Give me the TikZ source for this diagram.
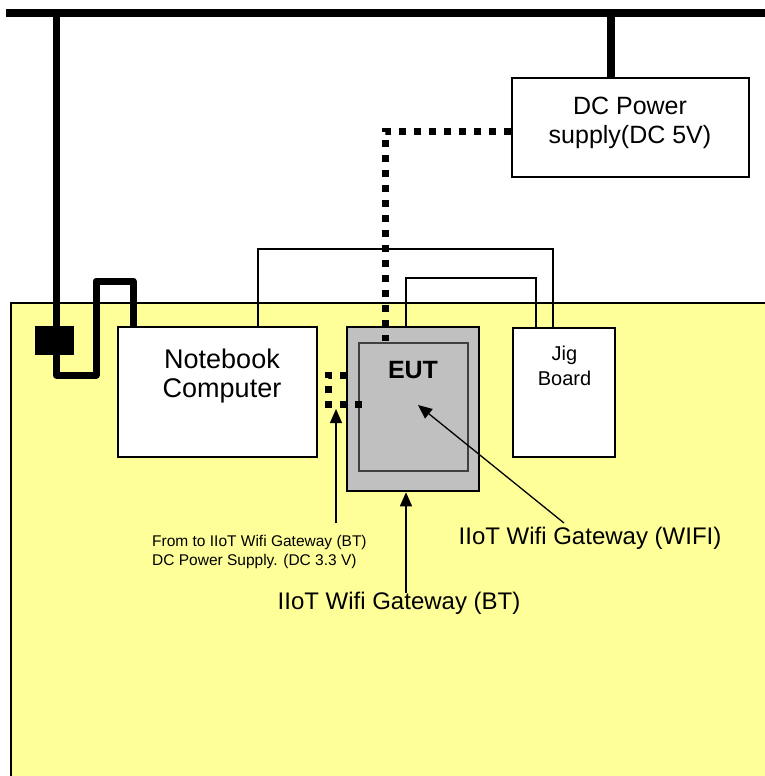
\documentclass[tikz,border=0pt]{standalone}
\usepackage{fontspec}
\setmainfont{Liberation Sans}
\usetikzlibrary{arrows.meta}
\definecolor{bgyellow}{RGB}{255,255,153}
\definecolor{eutgray}{RGB}{192,192,192}
\definecolor{innergray}{RGB}{64,64,64}
\tikzset{
  box/.style={draw=black, line width=1.5pt, fill=white, inner sep=0pt},
  thickwire/.style={line width=7pt, line join=round},
  dotwire/.style={line width=7pt, dash pattern=on 7pt off 8pt},
  thinwire/.style={line width=1.3pt},
  arr/.style={line width=1.3pt, -{Triangle[length=14pt,width=12pt]}},
  bigtxt/.style={font=\fontsize{25}{29}\selectfont, align=center, inner sep=0pt},
  labtxt/.style={font=\fontsize{24}{28}\selectfont, inner sep=0pt},
  jigtxt/.style={font=\fontsize{20}{25}\selectfont, align=center, inner sep=0pt},
  smalltxt/.style={font=\fontsize{15.5}{19.3}\selectfont, align=left, inner sep=0pt},
}
\begin{document}
\begin{tikzpicture}[x=1pt,y=-1pt]
\useasboundingbox (0,0) rectangle (765,776);
\clip (0,0) rectangle (765,776);
% yellow table area
\filldraw[fill=bgyellow, draw=black, line width=1.2pt] (11,303) rectangle (790,800);
% top mains bus
\draw[line width=8pt] (6,13) -- (775,13);
% coordinates for wires
\coordinate (busL) at (56.5,13);
\coordinate (busR) at (611,13);
% boxes
\node[box, minimum width=237pt, minimum height=99pt] (dc) at (630.5,127.5) {};
\node[box, minimum width=199pt, minimum height=130pt] (nb) at (217.5,392) {};
\node[box, fill=eutgray, line width=2.5pt, minimum width=132pt, minimum height=164pt] (eut) at (413,409) {};
\node[draw=innergray, line width=1.2pt, fill=eutgray, inner sep=0pt, minimum width=109pt, minimum height=128pt] (eutin) at (413.5,407) {};
\node[box, minimum width=102pt, minimum height=129pt] (jig) at (564,392.5) {};
% adapter block
\node[fill=black, inner sep=0pt, minimum width=39pt, minimum height=29pt] (adapter) at (54.5,340.5) {};
% power wires
\draw[thickwire] (busL) -- (56.5,375) -- (96,375) -- (96,281) -- (133,281) -- (133,327) coordinate (nbpw);
\draw[line width=7.5pt] (busR) -- (dc.north -| busR);
% thin signal wires
\draw[thinwire] (nb.north -| 258,0) -- (258,249) -- (553,249) -- (jig.north -| 553,0);
\draw[thinwire] (eut.north -| 406,0) -- (406,278) -- (536,278) -- (jig.north -| 536,0);
% texts in boxes
\node[bigtxt] (dctxt) at (630,123) {DC Power\\supply(DC 5V)};
\node[bigtxt, font=\fontsize{27}{29}\selectfont] (nbtxt) at (222,376) {Notebook\\Computer};
\node[font=\fontsize{25}{29}\selectfont\bfseries, inner sep=0pt] (euttxt) at (413,370) {EUT};
\node[jigtxt] (jigtxt) at (564.5,366) {Jig\\Board};
% dotted DC cables
\draw[dotwire] (dc.west |- 0,131) -- (385,131) -- (385,341) coordinate (dcin);
\draw[dotwire] (347,375) -- (328,375) -- (328,404) -- (364,404) coordinate (btin);
% labels
\node[smalltxt, anchor=north west] (srclab) at (152,535) {From to IIoT Wifi Gateway (BT)\\DC Power Supply. (DC 3.3 V)};
\node[labtxt] (btlab) at (399,603) {IIoT Wifi Gateway (BT)};
\node[labtxt] (wifilab) at (590,538) {IIoT Wifi Gateway (WIFI)};
% arrows
\coordinate (srcA) at (336,523);
\coordinate (srcB) at (336,409);
\coordinate (btA) at (406,593);
\coordinate (wifiA) at (564,523);
\coordinate (wifiB) at (418,405);
\draw[arr] (srcA) -- (srcB);
\draw[arr] (btA) -- (eut.south -| btA);
\draw[arr] (wifiA) -- (wifiB);
\end{tikzpicture}
\end{document}
